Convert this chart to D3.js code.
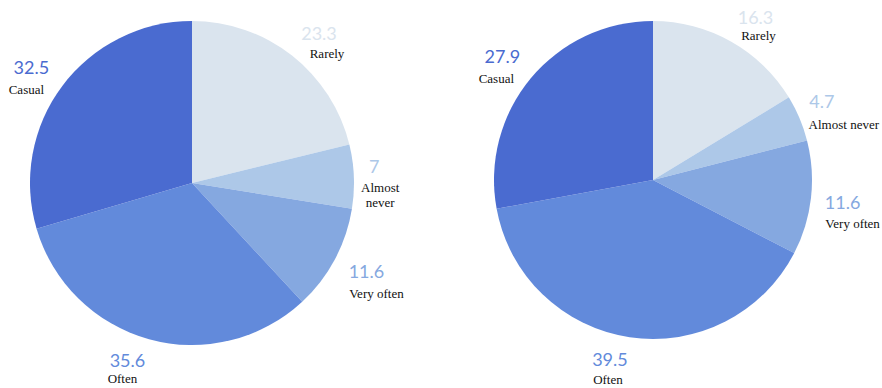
<!DOCTYPE html>
<html>
<head>
<meta charset="utf-8">
<script src="https://cdn.jsdelivr.net/npm/d3@7"></script>
<style>
  body { margin: 0; background: #fff; }
  svg { display: block; }
</style>
</head>
<body>
<svg width="882" height="388"></svg>
<script>

// DATA ––––––––––––––––––––––––––––––––––––––––––––––––––––––––––––––––

var categories = ["Rarely", "Almost never", "Very often", "Often", "Casual"];
var leftValues = [23.3, 7, 11.6, 35.6, 32.5];
var rightValues = [16.3, 4.7, 11.6, 39.5, 27.9];
var leftLabels = ["23.3", "7", "11.6", "35.6", "32.5"];
var rightLabels = ["16.3", "4.7", "11.6", "39.5", "27.9"];
var colors = ["#dae4ee", "#adc8e8", "#85a8e0", "#628adb", "#4a6bd0"];


// D3 ––––––––––––––––––––––––––––––––––––––––––––––––––––––––––––––––––

var svg = d3.select("svg");

var color = d3.scaleOrdinal()
  .domain(categories)
  .range(colors);

// nudge = [number dx, number dy, category dx, category dy]
var drawPie = function(values, labels, cx, cy, radius, wrapNever, nudges) {
  var data = categories.map(function(c, i) {
    return {cat: c, value: values[i], label: labels[i], nudge: nudges[i]};
  });

  var pie = d3.pie()
    .sort(null)
    .value(function(d) { return d.value; });

  var arc = d3.arc()
    .innerRadius(0)
    .outerRadius(radius);

  var labelArc = d3.arc()
    .innerRadius(radius * 1.2)
    .outerRadius(radius * 1.2);

  var g = svg.append("g")
    .attr("transform", "translate(" + cx + "," + cy + ")");

  g.selectAll("path")
    .data(pie(data))
    .enter().append("path")
      .attr("d", arc)
      .attr("fill", function(d) { return color(d.data.cat); });

  var lab = g.selectAll("g.lab")
    .data(pie(data))
    .enter().append("g")
      .attr("class", "lab")
      .attr("transform", function(d) {
        var c = labelArc.centroid(d);
        return "translate(" + (c[0] + d.data.nudge[0]) + "," + (c[1] + d.data.nudge[1]) + ")";
      });

  lab.append("text")
    .attr("text-anchor", "middle")
    .attr("fill", function(d) { return color(d.data.cat); })
    .style("font-family", "Lato, 'Open Sans', sans-serif")
    .style("font-size", "18px")
    .text(function(d) { return d.data.label; });

  var catText = lab.append("text")
    .attr("text-anchor", "middle")
    .attr("transform", function(d) { return "translate(" + d.data.nudge[2] + "," + d.data.nudge[3] + ")"; })
    .attr("fill", "#111")
    .style("font-family", "'Liberation Serif', 'Times New Roman', serif")
    .style("font-size", "13px");

  catText.each(function(d) {
    var t = d3.select(this);
    if (wrapNever && d.data.cat == "Almost never") {
      t.append("tspan").attr("x", 0).text("Almost");
      t.append("tspan").attr("x", 0).attr("dy", 15).text("never");
    } else {
      t.text(d.data.cat);
    }
  });
};

drawPie(leftValues, leftLabels, 192, 183, 162, true,
  [[7, 10, 8, 18], [-12, -2, 6, 19], [3, 3, 10, 20], [-13, -3, -5, 16], [-5, 7, -5, 20]]);
drawPie(rightValues, rightLabels, 653, 180, 159, false,
  [[9, 10, 3, 16], [-7, 2, 22, 21], [0, 7, 10, 19], [-15, -3, -2, 18], [-4, 5, -6, 20]]);

</script>
</body>
</html>
